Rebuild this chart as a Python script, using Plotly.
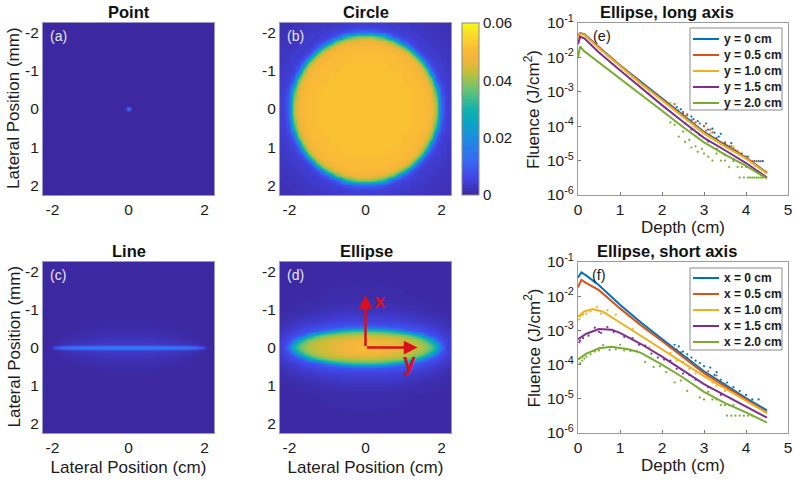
import numpy as np
import plotly.graph_objects as go

W, H = 794, 483
FONT = "Liberation Sans"
INK = "#1a1a1a"
PARULA = [[0, "rgb(60,40,160)"], [0.1, "rgb(65,70,230)"], [0.2, "rgb(55,105,240)"], [0.33, "rgb(30,140,225)"],
          [0.42, "rgb(10,165,195)"], [0.5, "rgb(20,178,170)"], [0.62, "rgb(110,197,110)"], [0.72, "rgb(200,190,55)"],
          [0.78, "rgb(238,182,60)"], [0.84, "rgb(250,185,55)"], [0.88, "rgb(250,200,48)"], [0.93, "rgb(250,220,40)"], [1, "rgb(248,248,20)"]]

# Heat maps: one quadrant of each field, in units of 0.001 J/cm2; rows = vertical, columns = horizontal
point_x = [0, 0.02, 0.04, 0.06, 0.09, 0.12, 2.25]
point_y = [0, 0.02, 0.04, 0.06, 0.09, 0.12, 2.25]
point_q = [[15, 13, 9, 4, 0.6, 0, 0],
           [13, 11, 8, 3.5, 0.5, 0, 0],
           [9, 8, 5, 2, 0.3, 0, 0],
           [4, 3.5, 2, 0.8, 0.1, 0, 0],
           [0.6, 0.5, 0.3, 0.1, 0, 0, 0],
           [0, 0, 0, 0, 0, 0, 0],
           [0, 0, 0, 0, 0, 0, 0]]

circle_x = [0, .125, .25, .375, .5, .625, .75, .875, 1, 1.125, 1.25, 1.375, 1.5, 1.625, 1.75, 1.875, 2, 2.125, 2.25]
circle_y = circle_x
circle_q = [
    [52, 52, 52, 52, 52, 52, 52, 52, 52, 52, 51, 51, 51, 50, 48, 40, 12, 5, 4],
    [52, 52, 52, 52, 52, 52, 52, 52, 52, 52, 51, 51, 51, 50, 48, 40, 12, 5, 4],
    [52, 52, 52, 52, 52, 52, 52, 52, 52, 52, 51, 51, 51, 50, 47, 38, 11, 5, 4],
    [52, 52, 52, 52, 52, 52, 52, 52, 52, 52, 51, 51, 51, 50, 46, 34, 9, 5, 4],
    [52, 52, 52, 52, 52, 52, 52, 52, 52, 52, 51, 51, 51, 49, 45, 30, 7.5, 4.5, 4],
    [52, 52, 52, 52, 52, 52, 52, 52, 52, 51, 51, 51, 50, 48, 41, 19, 6, 4, 4],
    [52, 52, 52, 52, 52, 52, 52, 52, 51, 51, 51, 51, 49, 46, 36, 10, 5, 4, 3.5],
    [52, 52, 52, 52, 52, 52, 52, 52, 51, 51, 51, 50, 48, 42, 22, 7, 4.5, 4, 3],
    [52, 52, 52, 52, 52, 52, 51, 51, 51, 51, 50, 49, 46, 34, 11, 5, 4, 3.5, 3],
    [52, 52, 52, 52, 52, 51, 51, 51, 51, 50, 49, 47, 40, 19, 7, 4.5, 4, 3.5, 3],
    [51, 51, 51, 51, 51, 51, 51, 51, 50, 49, 48, 41, 26, 8, 5, 4, 3.5, 3, 3],
    [51, 51, 51, 51, 51, 51, 51, 50, 49, 47, 41, 26, 9, 5, 4, 4, 3.5, 3, 3],
    [51, 51, 51, 51, 51, 50, 49, 48, 46, 40, 26, 9, 5, 4, 4, 3.5, 3, 3, 2.5],
    [50, 50, 50, 50, 49, 48, 46, 42, 34, 19, 8, 5, 4, 4, 3.5, 3, 3, 2.5, 2.5],
    [48, 48, 47, 46, 45, 41, 36, 22, 11, 7, 5, 4, 4, 3.5, 3, 3, 2.5, 2.5, 2.5],
    [40, 40, 38, 34, 30, 19, 10, 7, 5, 4.5, 4, 4, 3.5, 3, 3, 2.5, 2.5, 2.5, 2],
    [12, 12, 11, 9, 7.5, 6, 5, 4.5, 4, 4, 3.5, 3.5, 3, 3, 2.5, 2.5, 2.5, 2, 2],
    [5, 5, 5, 5, 4.5, 4, 4, 4, 3.5, 3.5, 3, 3, 3, 2.5, 2.5, 2.5, 2, 2, 2],
    [4, 4, 4, 4, 4, 4, 3.5, 3, 3, 3, 3, 3, 2.5, 2.5, 2.5, 2, 2, 2, 2],
]

line_x = [0, .25, .5, .75, 1, 1.25, 1.5, 1.75, 1.9, 2, 2.05, 2.25]
line_y = [0, .02, .04, .06, .1, .15, .25, .4, .6, .8, 2.25]
line_q = [
    [18, 18, 18, 17.5, 17, 17, 16, 14, 10, 5, 1, 0],
    [17, 17, 17, 16.5, 16, 15.5, 14.5, 12, 8, 4, .8, 0],
    [12, 12, 12, 11.5, 11, 10.5, 9.5, 7.5, 4.5, 2, .4, 0],
    [6.5, 6.5, 6.5, 6, 5.5, 5, 4.5, 3, 1.5, .7, .2, 0],
    [3.5, 3.5, 3.4, 3.2, 3, 2.8, 2.3, 1.4, .5, .2, .1, 0],
    [3, 3, 2.8, 2.6, 2.4, 2, 1.6, .9, .3, .1, 0, 0],
    [2.2, 2.1, 2, 1.8, 1.6, 1.3, .9, .4, .1, 0, 0, 0],
    [1.2, 1.2, 1.1, 1, .8, .6, .4, .1, 0, 0, 0, 0],
    [.5, .5, .4, .3, .2, .1, 0, 0, 0, 0, 0, 0],
    [.1, .1, .1, 0, 0, 0, 0, 0, 0, 0, 0, 0],
    [0, 0, 0, 0, 0, 0, 0, 0, 0, 0, 0, 0],
]

ellipse_x = [0, .25, .5, .75, 1, 1.25, 1.5, 1.625, 1.75, 1.875, 2, 2.125, 2.25]
ellipse_y = [0, .1, .2, .3, .4, .45, .5, .55, .6, .7, .8, 1, 1.3, 2.25]
ellipse_q = [
    [50, 49.5, 48, 46.5, 45, 43.5, 41.5, 39, 35, 28, 14, 6, 4],
    [50, 49, 47.5, 46, 44.5, 43, 40.5, 37, 32, 23, 10, 5.5, 3.8],
    [47, 46.5, 46, 45, 43.5, 41, 36, 30, 23, 12, 7, 5, 3.5],
    [43, 43, 42, 41, 39, 34, 23, 13, 9, 7, 5.5, 4, 3],
    [36, 36, 34, 31, 25, 13, 8, 7, 6, 5, 4, 3.5, 2.5],
    [29, 28, 26, 19, 12, 8.5, 7, 6, 5, 4, 3.5, 3, 2.2],
    [17, 16, 14, 11, 9, 7.5, 6, 5.2, 4.5, 3.8, 3.2, 2.5, 2],
    [10, 9.5, 9, 8, 7.5, 6.5, 5, 4.5, 4, 3.2, 2.8, 2.2, 1.7],
    [7.5, 7.5, 7, 6.5, 6, 5, 4.2, 3.8, 3.4, 2.8, 2.4, 1.9, 1.4],
    [5, 5, 5, 4.7, 4.3, 3.8, 3.2, 2.9, 2.6, 2.2, 1.9, 1.4, 1],
    [4, 4, 3.9, 3.7, 3.3, 2.9, 2.4, 2.1, 1.8, 1.5, 1.3, 1, .7],
    [2.2, 2.2, 2.1, 1.9, 1.7, 1.4, 1.1, 1, .9, .8, .6, .4, .3],
    [.8, .8, .7, .7, .6, .5, .4, .3, .3, .2, .2, .1, .1],
    [.1, .1, .1, .1, .1, .1, 0, 0, 0, 0, 0, 0, 0],
]

# Line series: depth (cm) and fluence (J/cm2)
e_names = ["y = 0 cm", "y = 0.5 cm", "y = 1.0 cm", "y = 1.5 cm", "y = 2.0 cm"]
f_names = ["x = 0 cm", "x = 0.5 cm", "x = 1.0 cm", "x = 1.5 cm", "x = 2.0 cm"]
colors = ["#0072BD", "#D95319", "#EDB120", "#7E2F8E", "#77AC30"]

e_depth = [0, .05, .15, .3, .5, 1, 1.5, 2, 2.5, 3, 3.5, 4, 4.5]
e_y0 = [.04, .05, .047, .033, .0198, .0059, .0019, 6.2e-4, 2.1e-4, 6.8e-5, 2.8e-5, 1.2e-5, 4.4e-6]
e_y1 = [.04, .05, .047, .032, .0192, .0058, .0018, 6e-4, 2e-4, 6.4e-5, 2.7e-5, 1.2e-5, 4.3e-6]
e_y2 = [.036, .048, .045, .03, .0185, .0056, .0017, 5.7e-4, 1.9e-4, 6.2e-5, 2.6e-5, 1.15e-5, 4.2e-6]
e_y3 = [.024, .04, .036, .024, .0138, .0042, .0013, 4.1e-4, 1.35e-4, 4.6e-5, 2e-5, 8.5e-6, 3.2e-6]
e_y4 = [.01, .021, .015, .0109, .0072, .0025, 8.2e-4, 2.8e-4, 9.5e-5, 3.4e-5, 1.5e-5, 7e-6, 3e-6]

f_depth0 = [0, .08, .2, .5, 1, 1.5, 2, 2.5, 3, 3.5, 4, 4.5]
f_x0 = [.035, .05, .04, .021, .0056, .0017, 5.6e-4, 1.9e-4, 6.4e-5, 2.6e-5, 1.05e-5, 4.6e-6]
f_x1 = [.018, .03, .024, .015, .0044, .0014, 4.9e-4, 1.7e-4, 5.6e-5, 2.3e-5, 9.5e-6, 4e-6]
f_depth2 = [0, .15, .35, .6, 1, 1.5, 2, 2.5, 3, 3.5, 4, 4.5]
f_x2 = [.0025, .0036, .0042, .0035, .0017, 6.8e-4, 2.8e-4, 1.1e-4, 4.6e-5, 2e-5, 8.8e-6, 3.8e-6]
f_depth3 = [0, .2, .5, .8, 1, 1.5, 2, 2.5, 3, 3.5, 4, 4.5]
f_x3 = [5.5e-4, 8e-4, 1.1e-3, 1.05e-3, 8.5e-4, 4e-4, 1.7e-4, 6.6e-5, 2.7e-5, 1.25e-5, 6e-6, 2.8e-6]
f_depth4 = [0, .2, .5, .8, 1.2, 1.5, 2, 2.5, 3, 3.5, 4, 4.5]
f_x4 = [1.4e-4, 2.1e-4, 3e-4, 3.3e-4, 2.8e-4, 2.2e-4, 1e-4, 4.2e-5, 1.6e-5, 7.5e-6, 4e-6, 2e-6]

# Scattered single-voxel readings around the curves, by colour
e_dots_x = {
    "#0072BD": [2.05, 2.2, 2.35, 2.45, 2.5, 2.6, 2.7, 2.75, 2.85, 2.9, 3.0, 3.05, 3.1, 3.2, 3.25, 3.35, 3.4, 3.5, 3.6, 3.65, 3.75, 3.9, 4.0, 4.1, 4.2, 4.3, 4.4],
    "#D95319": [2.3, 2.5, 2.6, 2.7, 2.8, 2.85, 3.0, 3.05, 3.15, 3.2, 3.3, 3.4, 3.5, 3.55, 3.65, 3.7, 3.8, 3.95, 4.05, 4.15, 4.25, 4.35],
    "#EDB120": [2.2, 2.4, 2.55, 2.65, 2.8, 2.95, 3.15, 3.3, 3.45, 3.55, 3.7, 3.85],
    "#7E2F8E": [2.55, 2.7, 2.9, 3.1, 3.3, 3.5, 3.7],
    "#77AC30": [2.2, 2.3, 2.4, 2.5, 2.55, 2.65, 2.7, 2.8, 2.85, 2.95, 3.0, 3.1, 3.2, 3.3, 3.4, 3.5, 3.6, 3.7, 3.8, 3.9, 4.0, 3.85, 3.95, 4.05, 4.1, 4.15, 4.2, 4.25, 4.3, 4.35, 4.4],
}
e_dots_y = {
    "#0072BD": [5.6e-4, 4e-4, 3.6e-4, 3.1e-4, 2.4e-4, 2.1e-4, 1.9e-4, 1.6e-4, 1.4e-4, 1.2e-4, 1e-4, 1.2e-4, 8e-5, 8.5e-5, 6.5e-5, 5e-5, 6e-5, 3.1e-5, 2.6e-5, 3.2e-5, 2e-5, 1.6e-5, 1.3e-5, 9.6e-6, 9.6e-6, 9.6e-6, 9.6e-6],
    "#D95319": [4.4e-4, 2.6e-4, 2.2e-4, 1.5e-4, 1.3e-4, 9e-5, 1e-4, 7.5e-5, 8e-5, 6.6e-5, 4.6e-5, 3.1e-5, 3.4e-5, 2.6e-5, 2.6e-5, 2.3e-5, 1.9e-5, 1.3e-5, 1.3e-5, 9.6e-6, 9.6e-6, 9.6e-6],
    "#EDB120": [4.8e-4, 3e-4, 2e-4, 1.5e-4, 9e-5, 8e-5, 6e-5, 3.8e-5, 3.2e-5, 2.8e-5, 2.5e-5, 1.7e-5],
    "#7E2F8E": [1.2e-4, 8e-5, 5.5e-5, 3.6e-5, 2.2e-5, 1.5e-5, 1.1e-5],
    "#77AC30": [1.3e-4, 1.1e-4, 5e-5, 7e-5, 3.5e-5, 4e-5, 2.4e-5, 2.6e-5, 1.8e-5, 2.2e-5, 1.6e-5, 1.3e-5, 1e-5, 1.6e-5, 1e-5, 1e-5, 6.5e-6, 9.6e-6, 6.5e-6, 6.5e-6, 6.5e-6, 3.2e-6, 3.2e-6, 3.2e-6, 3.2e-6, 3.2e-6, 3.2e-6, 3.2e-6, 3.2e-6, 3.2e-6, 3.2e-6],
}
f_dots_x = {
    "#0072BD": [2.3, 2.4, 2.5, 2.6, 2.7, 2.8, 2.9, 3.0, 3.15, 3.25, 3.3, 3.4, 3.55, 3.7, 3.85, 4.0, 4.15, 4.3],
    "#D95319": [2.2, 2.35, 2.45, 2.6, 2.7, 2.9, 3.1, 3.3, 3.5, 3.65, 3.8, 4.0],
    "#EDB120": [.03, .05, .08, .12, .2, .3, .45, .55, .7, .9, 1.3, 1.7, 2.2, 2.35, 2.5, 2.65, 2.8, 3.05, 3.2, 3.3, 3.5],
    "#7E2F8E": [.03, .05, .12, .25, .4, .5, .55, .7, .85, 1.1, 1.3, 1.45, 1.6, 1.75, 1.9, 2.05, 2.2, 2.35, 2.5, 2.65, 2.8, 3.1, 3.4],
    "#77AC30": [.05, .1, .15, .2, .3, .4, .5, .6, .75, .9, 1.0, 1.1, 1.25, 1.4, 1.6, 1.8, 1.95, 2.1, 2.3, 2.45, 2.6, 2.9, 3.0, 3.1, 3.2, 3.3, 3.4, 3.5, 3.6, 3.7, 3.55, 3.65, 3.75, 3.85, 3.95, 4.05, 4.15],
}
f_dots_y = {
    "#0072BD": [3.8e-4, 3.4e-4, 2.4e-4, 2e-4, 1.6e-4, 1.3e-4, 1.1e-4, 9e-5, 8.2e-5, 5e-5, 6e-5, 3.6e-5, 3e-5, 2.2e-5, 1.7e-5, 1.3e-5, 9.6e-6, 9.6e-6],
    "#D95319": [3.4e-4, 2.8e-4, 2.3e-4, 1.6e-4, 1.2e-4, 7.5e-5, 6.4e-5, 4.8e-5, 2.7e-5, 1.9e-5, 1.5e-5, 9.6e-6],
    "#EDB120": [.0021, .0026, .0029, .0029, .0031, .0036, .0048, .0031, .0039, .0029, .0011, 3.2e-4, 2.2e-4, 1.3e-4, 1.2e-4, 7.5e-5, 5.5e-5, 4.5e-5, 3e-5, 2.4e-5, 1.7e-5],
    "#7E2F8E": [4.5e-4, 5e-4, 6e-4, 7e-4, 1.2e-3, 9e-4, 8.5e-4, 1.25e-3, 9e-4, 6.5e-4, 6e-4, 3.8e-4, 3.6e-4, 2.1e-4, 1.6e-4, 1.4e-4, 1.3e-4, 7.5e-5, 5.5e-5, 5e-5, 3.6e-5, 2.2e-5, 1.3e-5],
    "#77AC30": [1.1e-4, 1.3e-4, 1.5e-4, 1.7e-4, 2e-4, 2.4e-4, 2.6e-4, 3.7e-4, 2.7e-4, 2.8e-4, 3.8e-4, 2.6e-4, 2.5e-4, 2.5e-4, 1.2e-4, 8.5e-5, 9e-5, 6e-5, 3e-5, 3.4e-5, 1.7e-5, 1.1e-5, 9.6e-6, 1.6e-5, 9.6e-6, 9.6e-6, 6.5e-6, 6.5e-6, 6.5e-6, 6.5e-6, 3.2e-6, 3.2e-6, 3.2e-6, 3.2e-6, 3.2e-6, 3.2e-6, 3.2e-6],
}

heat_ticks = [-2, -1, 0, 1, 2]
heat_text = ["-2", "-1", "0", "1", "2"]
x_ticks = [-2, 0, 2]
x_text = ["-2", "0", "2"]
depth_ticks = [0, 1, 2, 3, 4, 5]
log_ticks = [1e-6, 1e-5, 1e-4, 1e-3, 1e-2, 1e-1]
log_text = ["10<sup>-6</sup>", "10<sup>-5</sup>", "10<sup>-4</sup>", "10<sup>-3</sup>", "10<sup>-2</sup>", "10<sup>-1</sup>"]
cbar_ticks = [0, .02, .04, .06]
cbar_text = ["0", "0.02", "0.04", "0.06"]


def px(x):
    return x / W


def py(y):
    return 1 - y / H


def full_axis(a):
    a = np.array(a, dtype=float)
    return np.concatenate([-a[:0:-1], a])


def full_field(q):
    q = np.array(q, dtype=float) / 1000
    q = np.vstack([q[:0:-1], q])
    return np.hstack([q[:, :0:-1], q])


fig = go.Figure()
panels = [
    ("", "", point_x, point_y, point_q, (43, 214, 23, 195), "Point", "(a)", True, False),
    ("2", "2", circle_x, circle_y, circle_q, (280, 451, 23, 195), "Circle", "(b)", False, False),
    ("3", "3", line_x, line_y, line_q, (43, 214, 262, 433), "Line", "(c)", True, True),
    ("4", "4", ellipse_x, ellipse_y, ellipse_q, (280, 451, 262, 433), "Ellipse", "(d)", False, True),
]
layout = dict(
    width=W, height=H, margin=dict(l=0, r=0, t=0, b=0, autoexpand=False), paper_bgcolor="white", plot_bgcolor="white",
    font=dict(family=FONT, color=INK, size=15), showlegend=False, annotations=[], shapes=[],
)
ann = layout["annotations"]
shp = layout["shapes"]
TITLE = dict(family=FONT, size=16.5, color="#111111")


def title(x, y, s):
    ann.append(dict(x=px(x), y=py(y), xref="paper", yref="paper", text=f"<b>{s}</b>", showarrow=False,
                    font=TITLE, xanchor="center", yanchor="middle"))


for xn, yn, gx, gy, q, box, name, tag, ylab, xlab in panels:
    show = name == "Circle"
    common = dict(x=full_axis(gx), y=full_axis(gy), z=full_field(q), xaxis="x" + xn, yaxis="y" + yn,
                  zmin=0, zmax=0.06, colorscale=PARULA, showscale=show, showlegend=False,
                  colorbar=dict(x=px(462), xanchor="left", y=py(195), yanchor="bottom", len=172 / H, lenmode="fraction",
                                thickness=17, tickvals=cbar_ticks, ticktext=cbar_text, ticks="", outlinecolor="#8a8a8a",
                                outlinewidth=1, xpad=0, ypad=0, tickfont=dict(family=FONT, size=15, color=INK)) if show else None)
    if name in ("Circle", "Ellipse"):
        fig.add_trace(go.Contour(contours=dict(coloring="fill", start=0, end=0.06, size=0.0005, showlines=False),
                                 line=dict(width=0, smoothing=1.0), **common))
    else:
        fig.add_trace(go.Heatmap(zsmooth="best", **common))
    l, r, t, b = box
    layout["xaxis" + xn] = dict(
        domain=[px(l), px(r)], range=[-2.25, 2.25], anchor="y" + yn, tickvals=x_ticks, ticktext=x_text, ticks="", showgrid=False,
        zeroline=False, showline=True, mirror=True, linecolor="#9a96c4", linewidth=1, tickfont=dict(size=15.5),
        title=dict(text="Lateral Position (cm)" if xlab else "", font=dict(size=17), standoff=6),
    )
    layout["yaxis" + yn] = dict(
        domain=[py(b), py(t)], range=[2.25, -2.25], anchor="x" + xn, tickvals=heat_ticks, ticktext=heat_text, ticks="", showgrid=False,
        zeroline=False, showline=True, mirror=True, linecolor="#9a96c4", linewidth=1, tickfont=dict(size=15.5),
    )
    title((l + r) / 2 + 0.5, t - 11, name)
    ann.append(dict(x=px(l + 5), y=py(t + 13), xref="paper", yref="paper", text=tag, showarrow=False,
                    xanchor="left", yanchor="middle", font=dict(family=FONT, size=14, color="#e8e6f2")))
    if ylab:
        ann.append(dict(x=px(14), y=py((t + b) / 2 - 1), xref="paper", yref="paper", text="Lateral Position (mm)",
                        textangle=-90, showarrow=False, font=dict(family=FONT, size=17, color=INK),
                        xanchor="center", yanchor="middle"))


def lines(xn, depths, values, names):
    for d, v, n, c in zip(depths, values, names, colors):
        fig.add_trace(go.Scatter(x=d, y=v, name=n, mode="lines", xaxis="x" + xn, yaxis="y" + xn,
                                 line=dict(color=c, width=2)))


def dots(xn, xs, ys):
    for c in xs:
        fig.add_trace(go.Scatter(x=xs[c], y=ys[c], mode="markers", xaxis="x" + xn, yaxis="y" + xn, showlegend=False,
                                 marker=dict(color=c, size=2.2, line=dict(width=0))))


def key(names, top, bottom, first, step):
    shp.append(dict(type="rect", xref="paper", yref="paper", x0=px(690), x1=px(782), y0=py(bottom), y1=py(top),
                    fillcolor="white", line=dict(color="#8a8a8a", width=1), layer="above"))
    for i, (n, c) in enumerate(zip(names, colors)):
        row = first + i * step
        shp.append(dict(type="line", xref="paper", yref="paper", x0=px(693), x1=px(719), y0=py(row), y1=py(row),
                        line=dict(color=c, width=2), layer="above"))
        ann.append(dict(x=px(722), y=py(row), xref="paper", yref="paper", text=f"<b>{n}</b>", showarrow=False,
                        xanchor="left", yanchor="middle", font=dict(family=FONT, size=12, color=INK)))


dots("5", e_dots_x, e_dots_y)
lines("5", [e_depth] * 5, [e_y0, e_y1, e_y2, e_y3, e_y4], e_names)
dots("6", f_dots_x, f_dots_y)
lines("6", [f_depth0, f_depth0, f_depth2, f_depth3, f_depth4], [f_x0, f_x1, f_x2, f_x3, f_x4], f_names)
key(e_names, 28, 110, 39, 16)
key(f_names, 268, 350, 278, 16)

for xn, box, name, tag, tagx in [("5", (578, 788, 23, 195), "Ellipse, long axis", "(e)", 602),
                                 ("6", (578, 788, 262, 433), "Ellipse, short axis", "(f)", 599)]:
    l, r, t, b = box
    layout["xaxis" + xn] = dict(
        domain=[px(l), px(r)], range=[0, 5], anchor="y" + xn, tickvals=depth_ticks, ticks="inside", ticklen=3,
        tickcolor="#777777", showgrid=False, zeroline=False, showline=True, mirror=True, linecolor="#9a9a9a",
        linewidth=1, tickfont=dict(size=15.5), title=dict(text="Depth (cm)", font=dict(size=17), standoff=4),
    )
    layout["yaxis" + xn] = dict(
        domain=[py(b), py(t)], type="log", range=[-6, -1], anchor="x" + xn, tickvals=log_ticks, ticktext=log_text,
        ticks="inside", ticklen=3, tickcolor="#777777", showgrid=False, zeroline=False, showline=True, mirror=True,
        linecolor="#9a9a9a", linewidth=1, tickfont=dict(size=15.5),
    )
    title((l + r) / 2 - 20 + 4, t - 11, name)
    ann.append(dict(x=px(tagx), y=py(t + 13), xref="paper", yref="paper", text=tag, showarrow=False,
                    font=dict(family=FONT, size=14.5, color=INK), xanchor="center", yanchor="middle"))
    ann.append(dict(x=px(532), y=py((t + b) / 2 + 1), xref="paper", yref="paper", text="Fluence (J/cm<sup>2</sup>)",
                    textangle=-90, showarrow=False, font=dict(family=FONT, size=17, color=INK),
                    xanchor="center", yanchor="middle"))

# red axis arrows on panel (d)
RED = "#d8101c"
for ax_, ay_, x_, y_ in [(0, 0, 0, -1.38), (0, 0, 1.37, 0)]:
    ann.append(dict(x=x_, y=y_, ax=ax_, ay=ay_, xref="x4", yref="y4", axref="x4", ayref="y4", text="",
                    showarrow=True, arrowhead=2, arrowsize=1.1, arrowwidth=2.5, arrowcolor=RED))
ann.append(dict(x=0.37, y=-1.24, xref="x4", yref="y4", text="<b>x</b>", showarrow=False, font=dict(family=FONT, size=21, color=RED)))
ann.append(dict(x=1.16, y=0.38, xref="x4", yref="y4", text="<b>y</b>", showarrow=False, font=dict(family=FONT, size=23, color=RED)))

fig.update_layout(**layout)
fig.write_html("out.html", post_script="document.body.style.margin='0';", config={"displayModeBar": False})
